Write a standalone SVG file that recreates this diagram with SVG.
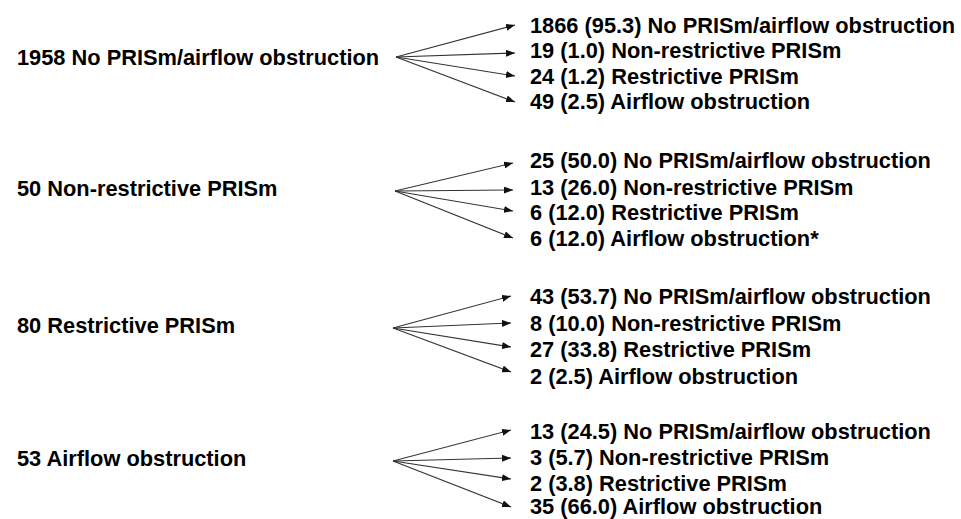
<svg xmlns="http://www.w3.org/2000/svg" width="961" height="519" viewBox="0 0 961 519">
<style>
text{font-family:"Liberation Sans",Arial,sans-serif;font-weight:bold;font-size:21.8px;fill:#000}
.c line{stroke:#333;stroke-width:1.1;marker-end:url(#ah)}
</style>
<defs>
<marker id="ah" viewBox="0 0 9 7" refX="9" refY="3.5" markerWidth="9" markerHeight="7" markerUnits="userSpaceOnUse" orient="auto">
<path d="M0,0 L9,3.5 L0,7 z" fill="#111"/>
</marker>
</defs>
<rect width="961" height="519" fill="#fff"/>
<g id="n1"><text x="17" y="65">1958 No PRISm/airflow obstruction</text></g>
<g id="n2"><text x="17" y="196">50 Non-restrictive PRISm</text></g>
<g id="n3"><text x="17" y="333">80 Restrictive PRISm</text></g>
<g id="n4"><text x="17" y="466">53 Airflow obstruction</text></g>
<g id="t1">
<text x="530" y="33">1866 (95.3) No PRISm/airflow obstruction</text>
<text x="530" y="58">19 (1.0) Non-restrictive PRISm</text>
<text x="530" y="84">24 (1.2) Restrictive PRISm</text>
<text x="530" y="109">49 (2.5) Airflow obstruction</text>
</g>
<g id="t2">
<text x="530" y="168">25 (50.0) No PRISm/airflow obstruction</text>
<text x="530" y="195">13 (26.0) Non-restrictive PRISm</text>
<text x="530" y="220">6 (12.0) Restrictive PRISm</text>
<text x="530" y="246">6 (12.0) Airflow obstruction*</text>
</g>
<g id="t3">
<text x="530" y="304">43 (53.7) No PRISm/airflow obstruction</text>
<text x="530" y="331">8 (10.0) Non-restrictive PRISm</text>
<text x="530" y="357">27 (33.8) Restrictive PRISm</text>
<text x="530" y="384">2 (2.5) Airflow obstruction</text>
</g>
<g id="t4">
<text x="530" y="439">13 (24.5) No PRISm/airflow obstruction</text>
<text x="530" y="465">3 (5.7) Non-restrictive PRISm</text>
<text x="530" y="491">2 (3.8) Restrictive PRISm</text>
<text x="530" y="514">35 (66.0) Airflow obstruction</text>
</g>
<g class="c" id="connectors">
<line x1="396" y1="57" x2="515" y2="25"/>
<line x1="396" y1="57" x2="515" y2="53"/>
<line x1="396" y1="57" x2="515" y2="76"/>
<line x1="396" y1="57" x2="515" y2="102"/>
<line x1="395" y1="191" x2="513" y2="163"/>
<line x1="395" y1="191" x2="513" y2="190"/>
<line x1="395" y1="191" x2="513" y2="211"/>
<line x1="395" y1="191" x2="513" y2="238"/>
<line x1="393" y1="328" x2="511" y2="296"/>
<line x1="393" y1="328" x2="511" y2="323"/>
<line x1="393" y1="328" x2="511" y2="347"/>
<line x1="393" y1="328" x2="511" y2="372"/>
<line x1="393" y1="461" x2="511" y2="430"/>
<line x1="393" y1="461" x2="511" y2="458"/>
<line x1="393" y1="461" x2="511" y2="479"/>
<line x1="393" y1="461" x2="511" y2="507"/>
</g>
</svg>
